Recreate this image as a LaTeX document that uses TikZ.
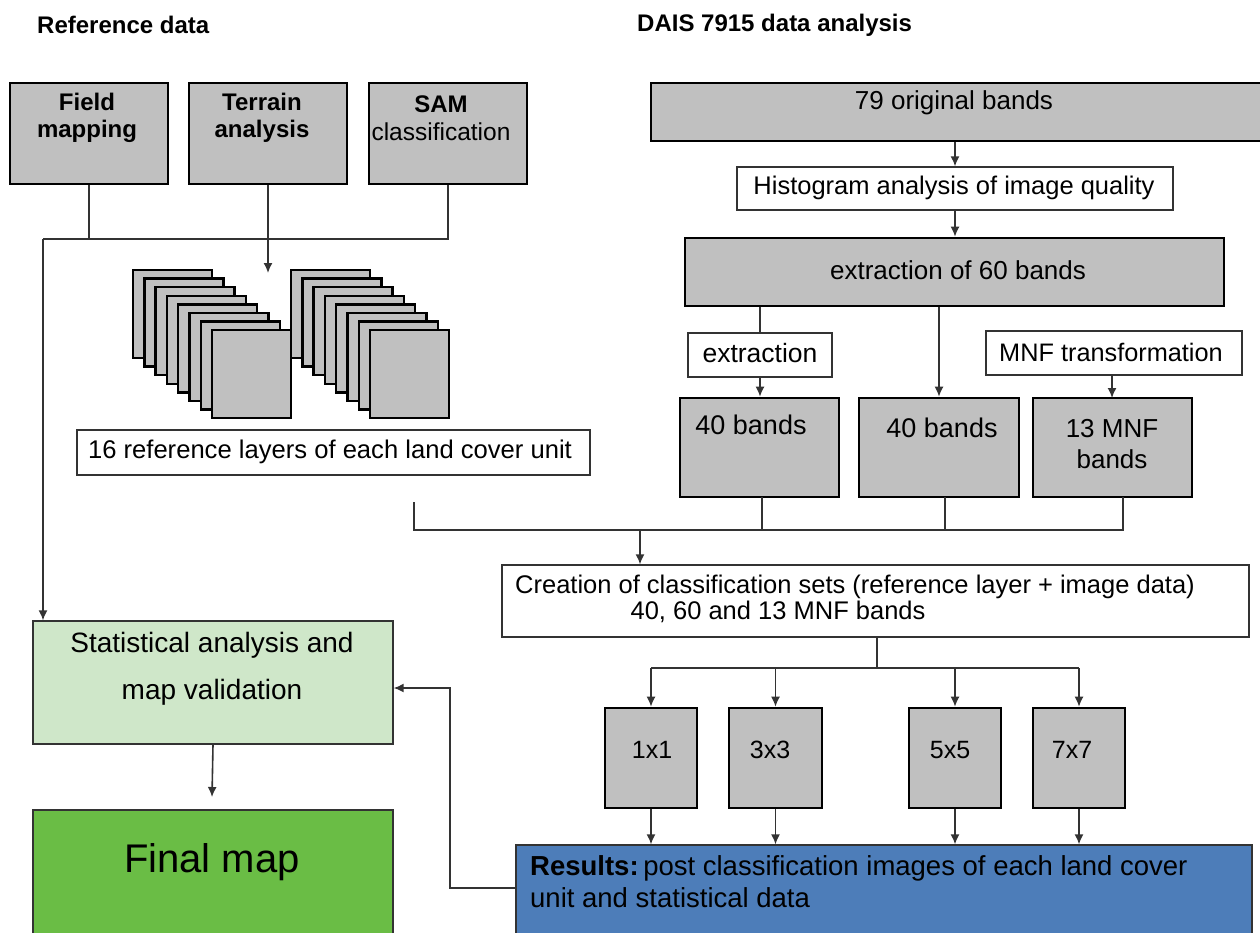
\documentclass[tikz,border=0pt]{standalone}
\usepackage{fontspec}
\setmainfont{Liberation Sans}
\usetikzlibrary{arrows.meta}
\definecolor{boxgray}{HTML}{C0C0C0}
\definecolor{statgreen}{HTML}{CFE7C9}
\definecolor{finalgreen}{HTML}{6ABD45}
\definecolor{resblue}{HTML}{4D7DB9}
\definecolor{linegray}{HTML}{333333}
\tikzset{
  graybox/.style={draw=black, fill=boxgray, line width=2.6pt, inner sep=0pt},
  whitebox/.style={draw=linegray, fill=white, line width=1.3pt, inner sep=0pt},
  layer/.style={draw=black, fill=boxgray, line width=2.4pt, inner sep=0pt, minimum width=79pt, minimum height=88pt},
  txt/.style={inner sep=0pt, font=\fontsize{26}{30}\selectfont},
  conn/.style={draw=linegray, line width=1.6pt},
  arr/.style={conn, -{Latex[length=10pt,width=9pt]}},
}
\begin{document}
\begin{tikzpicture}[x=1pt,y=-1pt]
\useasboundingbox (0,0) rectangle (1260,932);
% titles
\node[txt, anchor=west, font=\bfseries\fontsize{24}{28}\selectfont] (t1) at (37,25) {Reference data};
\node[txt, anchor=west, font=\bfseries\fontsize{24}{28}\selectfont] (t2) at (637,25) {DAIS 7915 data analysis};
% reference boxes
\node[graybox, minimum width=158pt, minimum height=101pt] (field) at (89,133.5) {};
\node[graybox, minimum width=158pt, minimum height=101pt] (terrain) at (268,133.5) {};
\node[graybox, minimum width=158pt, minimum height=101pt] (sam) at (448,133.5) {};
\node[txt, align=center, font=\bfseries\fontsize{24}{27}\selectfont] (fieldt) at (87,118) {Field\\mapping};
\node[txt, align=center, font=\bfseries\fontsize{24}{27}\selectfont] (terraint) at (262,118) {Terrain\\analysis};
\node[txt, font=\bfseries\fontsize{24}{27}\selectfont] (samt) at (441,104) {SAM};
\node[txt, font=\fontsize{24.5}{27}\selectfont] (samt2) at (441,132) {classification};
% stacks
\foreach \i in {0,...,7}{
  \node[layer] (la\i) at ({172.5+11.3*\i},{314+8.6*\i}) {};
}
\foreach \i in {0,...,7}{
  \node[layer] (lb\i) at ({330.5+11.3*\i},{314+8.6*\i}) {};
}
\node[whitebox, minimum width=513pt, minimum height=45pt] (refl) at (333.5,452.5) {};
\node[txt, font=\fontsize{25.6}{30}\selectfont] (reflt) at (330,452) {16 reference layers of each land cover unit};
% connectors reference part
\coordinate (j1) at (43,239);
\coordinate (tarr) at (268,273);
\draw[conn] (field.south) |- (j1);
\draw[conn] (sam.south) |- (j1);
\draw[arr] (terrain.south) -- (tarr);
% DAIS part
\node[graybox, minimum width=640pt, minimum height=58pt] (orig) at (971,112) {};
\node[txt] (origt) at (954,103) {79 original bands};
\node[whitebox, minimum width=436pt, minimum height=43pt] (hist) at (955,188.5) {};
\node[txt, font=\fontsize{25.5}{30}\selectfont] (histt) at (954,188) {Histogram analysis of image quality};
\node[graybox, minimum width=539pt, minimum height=68pt] (ext60) at (954.5,272) {};
\node[txt] (ext60t) at (958,270) {extraction of 60 bands};
\draw[arr] (orig.south -| hist.north) -- (hist.north);
\draw[arr] (hist.south) -- (hist.south |- ext60.north);
\node[whitebox, minimum width=144pt, minimum height=44pt] (extr) at (760,355) {};
\node[txt, font=\fontsize{26.5}{30}\selectfont] (extrt) at (760,353) {extraction};
\node[whitebox, minimum width=256pt, minimum height=44pt] (mnf) at (1114,353) {};
\node[txt, font=\fontsize{25.3}{30}\selectfont] (mnft) at (1111,352) {MNF transformation};
\node[graybox, minimum width=159pt, minimum height=99pt] (b40a) at (759.5,447.5) {};
\node[graybox, minimum width=160pt, minimum height=99pt] (b40b) at (939,447.5) {};
\node[graybox, minimum width=159pt, minimum height=99pt] (b13) at (1112.5,447.5) {};
\node[txt, font=\fontsize{27}{30}\selectfont] (b40at) at (751,425) {40 bands};
\node[txt, font=\fontsize{27}{30}\selectfont] (b40bt) at (942,428) {40 bands};
\node[txt, font=\fontsize{26}{30}\selectfont] (b13t1) at (1112,429) {13 MNF};
\node[txt, font=\fontsize{26}{30}\selectfont] (b13t2) at (1112,459) {bands};
\draw[conn] (extr.north |- ext60.south) -- (extr.north);
\draw[arr] (extr.south) -- (extr.south |- b40a.north);
\draw[arr] (b40b.north |- ext60.south) -- (b40b.north);
\draw[conn] (mnf.north -| 1112,0) -- (1112,331);
\draw[arr] (1112,375) -- (1112,398);
% merge to creation
\node[whitebox, minimum width=747pt, minimum height=72pt] (crea) at (875.5,601) {};
\node[txt, font=\fontsize{25.5}{30}\selectfont] (creat1) at (855,587) {Creation of classification sets (reference layer + image data)};
\node[txt, font=\fontsize{25.5}{30}\selectfont] (creat2) at (778,612) {40, 60 and 13 MNF bands};
\coordinate (m0) at (414,502);
\coordinate (mj) at (640,530);
\draw[conn] (m0) |- (1123,530) -- (1123,497);
\draw[conn] (762,497) -- (762,530);
\draw[conn] (945,497) -- (945,530);
\draw[arr] (mj) -- (mj |- crea.north);
% kernel boxes
\node[graybox, minimum width=92pt, minimum height=100pt] (k1) at (651,758) {};
\node[graybox, minimum width=93pt, minimum height=100pt] (k3) at (775.5,758) {};
\node[graybox, minimum width=92pt, minimum height=100pt] (k5) at (955,758) {};
\node[graybox, minimum width=92pt, minimum height=100pt] (k7) at (1079,758) {};
\node[txt, font=\fontsize{25}{30}\selectfont] (k1t) at (652,750) {1x1};
\node[txt, font=\fontsize{25}{30}\selectfont] (k3t) at (770,750) {3x3};
\node[txt, font=\fontsize{25}{30}\selectfont] (k5t) at (950,750) {5x5};
\node[txt, font=\fontsize{25}{30}\selectfont] (k7t) at (1072,750) {7x7};
\coordinate (cj) at (877,668);
\draw[conn] (crea.south -| cj) -- (cj);
\draw[conn] (k1.north |- cj) -- (k7.north |- cj);
\foreach \k in {k1,k3,k5,k7}{
  \draw[arr] (\k.north |- cj) -- (\k.north);
}
% results
\node[draw=linegray, line width=1.3pt, fill=resblue, minimum width=736pt, minimum height=110pt, inner sep=0pt] (res) at (884,900) {};
\node[txt, anchor=west, font=\fontsize{27.5}{30}\selectfont] (rest1) at (530,868) {\textbf{Results:}\,post classification images of each land cover};
\node[txt, anchor=west, font=\fontsize{27.5}{30}\selectfont] (rest2) at (530,898) {unit and statistical data};
\foreach \k in {k1,k3,k5,k7}{
  \draw[arr] (\k.south) -- (\k.south |- res.north);
}
% left bottom
\node[draw=linegray, line width=1.3pt, fill=statgreen, minimum width=360pt, minimum height=123pt, inner sep=0pt] (stat) at (213,682.5) {};
\node[txt, font=\fontsize{28}{30}\selectfont] (statt1) at (212,645) {Statistical analysis and};
\node[txt, font=\fontsize{28}{30}\selectfont] (statt2) at (212,692) {map validation};
\node[draw=linegray, line width=1.3pt, fill=finalgreen, minimum width=360pt, minimum height=140pt, inner sep=0pt] (final) at (213,880) {};
\node[txt, font=\fontsize{40}{44}\selectfont] (finalt) at (212,862) {Final map};
\draw[arr] (j1) -- (j1 |- stat.north);
\draw[arr] (stat.south) -- (212,797);
\coordinate (fb) at (450,888);
\draw[arr] (res.west |- fb) -- (fb) |- (stat.east |- 0,688);
\end{tikzpicture}
\end{document}
